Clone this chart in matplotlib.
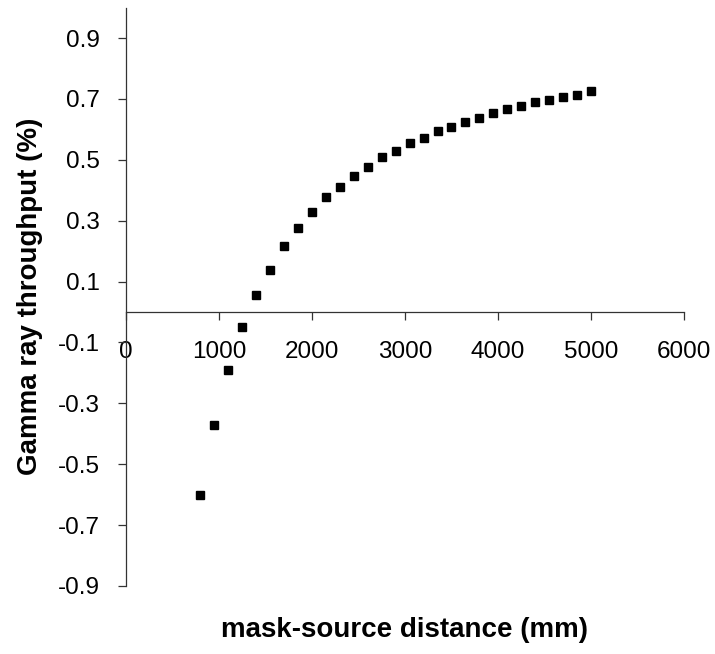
import matplotlib
matplotlib.use("Agg")
import matplotlib.pyplot as plt

plt.rcParams['font.family'] = ['Liberation Sans', 'DejaVu Sans']

# mask-source distance (mm) and gamma ray throughput (%)
distance = [800, 950, 1100, 1250, 1400, 1550, 1700, 1850, 2000, 2150,
            2300, 2450, 2600, 2750, 2900, 3050, 3200, 3350, 3500, 3650,
            3800, 3950, 4100, 4250, 4400, 4550, 4700, 4850, 5000]
throughput = [-0.60, -0.37, -0.19, -0.05, 0.057, 0.138, 0.216, 0.275, 0.329, 0.377,
              0.412, 0.448, 0.477, 0.508, 0.530, 0.554, 0.573, 0.596, 0.608, 0.624,
              0.637, 0.654, 0.667, 0.678, 0.691, 0.696, 0.707, 0.713, 0.726]

xticks = [0, 1000, 2000, 3000, 4000, 5000, 6000]
yticks = [-0.9, -0.7, -0.5, -0.3, -0.1, 0.1, 0.3, 0.5, 0.7, 0.9]

fig = plt.figure(figsize=(7.15, 6.54), dpi=100)
ax = fig.add_axes([126 / 715, (654 - 586) / 654, 558 / 715, 578.4 / 654])

ax.plot(distance, throughput, linestyle='none', marker='s', markersize=5.3,
        color='black')

ax.set_xlim(0, 6000)
ax.set_ylim(-0.9, 1.0)

# axes cross at the origin, like a spreadsheet chart
ax.spines['left'].set_position(('data', 0))
ax.spines['bottom'].set_position(('data', 0))
ax.spines['top'].set_visible(False)
ax.spines['right'].set_visible(False)
for s in ['left', 'bottom']:
    ax.spines[s].set_linewidth(0.9)
    ax.spines[s].set_color('#333333')

ax.set_xticks(xticks)
ax.set_yticks(yticks)
ax.set_yticklabels([f"{v:.1f}" for v in yticks])
ax.tick_params(axis='x', direction='out', length=6, width=0.9, color='#333333',
               labelsize=17.5, pad=15)
ax.tick_params(axis='y', direction='out', length=6, width=0.9, color='#333333',
               labelsize=17.5, pad=13)

ax.set_xlabel('mask-source distance (mm)', fontsize=20, fontweight='bold')
ax.xaxis.label.set_va('center')
ax.xaxis.set_label_coords(0.5, -0.076)
ax.set_ylabel('Gamma ray throughput (%)', fontsize=20, fontweight='bold')
ax.yaxis.label.set_va('center')
ax.yaxis.set_label_coords(-0.172, 0.5)

fig.savefig('out.png', dpi=100)
